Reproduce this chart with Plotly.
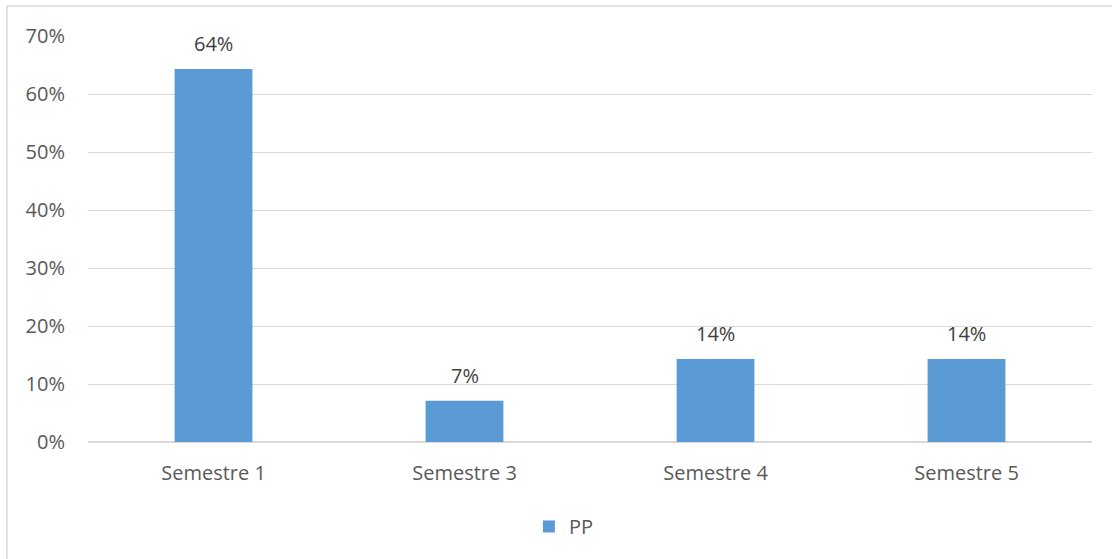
import plotly.graph_objects as go

categories = ["Semestre 1", "Semestre 3", "Semestre 4", "Semestre 5"]
pp_values = [0.643, 0.071, 0.143, 0.143]
value_labels = ["64%", "7%", "14%", "14%"]
series_name = "PP"
y_ticks = [0, 0.1, 0.2, 0.3, 0.4, 0.5, 0.6, 0.7]
y_tick_labels = ["0%", "10%", "20%", "30%", "40%", "50%", "60%", "70%"]

FONT = "'Open Sans', 'Segoe UI', sans-serif"
FS = 20
W = 400

fig = go.Figure()
fig.add_trace(go.Bar(
    x=categories, y=pp_values, name=series_name,
    marker=dict(color="#5b9bd5", line=dict(width=0)),
))

annotations = [
    dict(x=c, y=v, text=t, xref="x", yref="y", showarrow=False,
         yanchor="bottom", yshift=10,
         font=dict(size=FS, color="#404040", family=FONT, weight=W))
    for c, v, t in zip(categories, pp_values, value_labels)
]

fig.update_layout(
    width=1112, height=559,
    margin=dict(l=88, r=20, t=36, b=117),
    paper_bgcolor="white", plot_bgcolor="white",
    bargap=0.69,
    font=dict(family=FONT, size=FS, color="#595959", weight=W),
    showlegend=True,
    legend=dict(orientation="h", x=0.474, xanchor="center", y=-0.16, yanchor="top",
                font=dict(size=FS, color="#595959", family=FONT, weight=W),
                itemwidth=30),
    xaxis=dict(showgrid=False, showline=False, ticks="", ticklabelstandoff=17,
               tickfont=dict(size=FS, color="#595959", weight=W)),
    yaxis=dict(range=[0, 0.7], tickvals=y_ticks, ticktext=y_tick_labels,
               showgrid=True, gridcolor="#d9d9d9", gridwidth=1,
               zeroline=True, zerolinecolor="#d9d9d9", zerolinewidth=1.5,
               showline=False, ticks="", ticklabelstandoff=22,
               tickfont=dict(size=FS, color="#595959", weight=W)),
    annotations=annotations,
    shapes=[dict(type="rect", xref="paper", yref="paper",
                 x0=-0.0807, x1=1.2, y0=-0.6, y1=1.0739,
                 line=dict(color="#d9d9d9", width=1.5), fillcolor="rgba(0,0,0,0)",
                 layer="below")],
)

fig.write_html("out.html", config={"displayModeBar": False},
               post_script="document.body.style.margin='0';")
